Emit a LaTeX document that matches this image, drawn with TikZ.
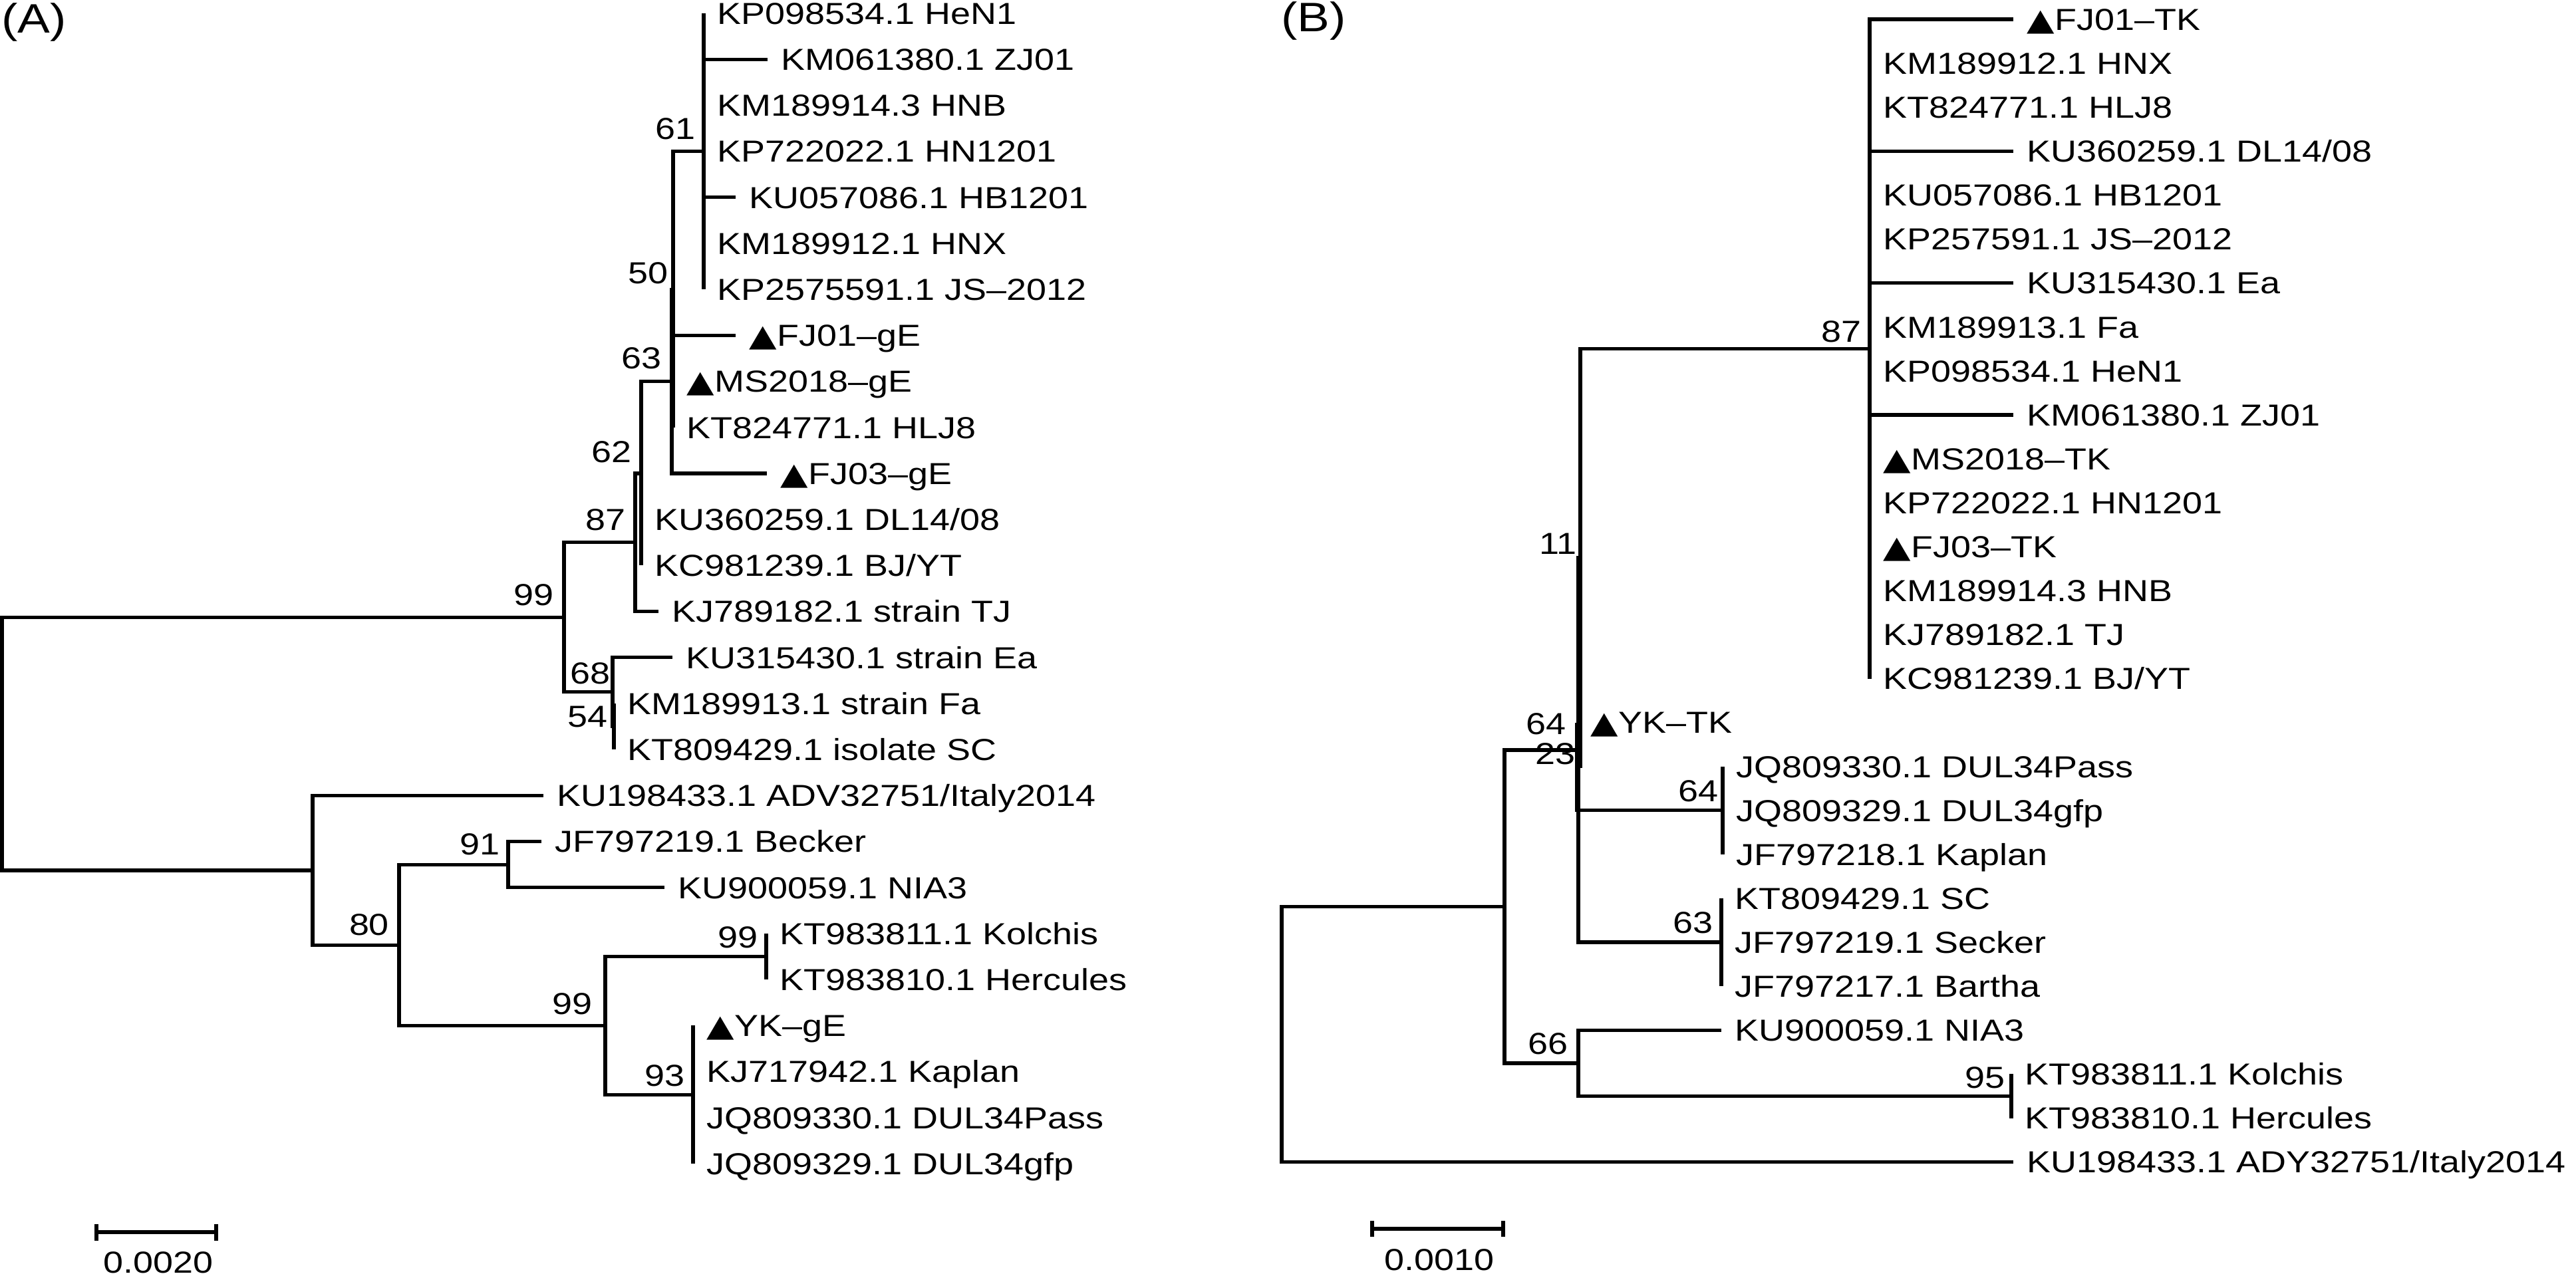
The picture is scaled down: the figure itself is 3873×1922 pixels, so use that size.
\documentclass[tikz,border=0pt]{standalone}
\usepackage{fontspec}
\setmainfont[FakeStretch=1.18]{Liberation Sans}
\newfontfamily\symf[FakeStretch=1.18]{DejaVu Sans}
\newcommand\tri{{\symf ▲}}
\begin{document}
\begin{tikzpicture}[x=0.01cm,y=-0.01cm,font=\fontsize{13}{15}\selectfont,
  br/.style={line width=1.5pt},
  leaf/.style={anchor=base west,inner sep=0pt,xshift=0.2cm,yshift=-0.163cm},
  boot/.style={anchor=center,inner sep=0pt},
  panel/.style={anchor=center,inner sep=0pt,font=\fontsize{17.6}{20}\selectfont}]
\useasboundingbox (0,0) rectangle (3873,1922);

% ---------------- Panel A ----------------
\node[panel] (pA) at (51,33) {(A)};
\coordinate (aroot) at (3,1118.6);
\coordinate (a99) at (848,928.25);
\coordinate (a87) at (955,815.8);
\coordinate (a62) at (964,712);
\coordinate (a63) at (1010,573.6);
\coordinate (a50) at (1012,435.2);
\coordinate (a61) at (1058,227.6);
\coordinate (a68) at (921,1040.7);
\coordinate (a54) at (923,1092.6);
\coordinate (aB) at (470,1308.9);
\coordinate (a80) at (600,1421.3);
\coordinate (a91) at (764,1300.2);
\coordinate (a99b) at (910,1542.4);
\coordinate (a99k) at (1152,1438.6);
\coordinate (a93) at (1042,1646.2);

\coordinate (at1) at (1058,20);
\coordinate (at2) at (1154,89.2);
\coordinate (at3) at (1058,158.4);
\coordinate (at4) at (1058,227.6);
\coordinate (at5) at (1106,296.8);
\coordinate (at6) at (1058,366);
\coordinate (at7) at (1058,435.2);
\coordinate (at8) at (1106,504.4);
\coordinate (at9) at (1012,573.6);
\coordinate (at10) at (1012,642.8);
\coordinate (at11) at (1153,712);
\coordinate (at12) at (964,781.2);
\coordinate (at13) at (964,850.4);
\coordinate (at14) at (990,919.6);
\coordinate (at15) at (1011,988.8);
\coordinate (at16) at (923,1058);
\coordinate (at17) at (923,1127.2);
\coordinate (at18) at (817,1196.4);
\coordinate (at19) at (814,1265.6);
\coordinate (at20) at (999,1334.8);
\coordinate (at21) at (1152,1404);
\coordinate (at22) at (1152,1473.2);
\coordinate (at23) at (1042,1542.4);
\coordinate (at24) at (1042,1611.6);
\coordinate (at25) at (1042,1680.8);
\coordinate (at26) at (1042,1750);

\node[leaf] (al1) at (at1) {KP098534.1 HeN1};
\node[leaf] (al2) at (at2) {KM061380.1 ZJ01};
\node[leaf] (al3) at (at3) {KM189914.3 HNB};
\node[leaf] (al4) at (at4) {KP722022.1 HN1201};
\node[leaf] (al5) at (at5) {KU057086.1 HB1201};
\node[leaf] (al6) at (at6) {KM189912.1 HNX};
\node[leaf] (al7) at (at7) {KP2575591.1 JS–2012};
\node[leaf] (al8) at (at8) {\tri FJ01–gE};
\node[leaf] (al9) at (at9) {\tri MS2018–gE};
\node[leaf] (al10) at (at10) {KT824771.1 HLJ8};
\node[leaf] (al11) at (at11) {\tri FJ03–gE};
\node[leaf] (al12) at (at12) {KU360259.1 DL14/08};
\node[leaf] (al13) at (at13) {KC981239.1 BJ/YT};
\node[leaf] (al14) at (at14) {KJ789182.1 strain TJ};
\node[leaf] (al15) at (at15) {KU315430.1 strain Ea};
\node[leaf] (al16) at (at16) {KM189913.1 strain Fa};
\node[leaf] (al17) at (at17) {KT809429.1 isolate SC};
\node[leaf] (al18) at (at18) {KU198433.1 ADV32751/Italy2014};
\node[leaf] (al19) at (at19) {JF797219.1 Becker};
\node[leaf] (al20) at (at20) {KU900059.1 NIA3};
\node[leaf] (al21) at (at21) {KT983811.1 Kolchis};
\node[leaf] (al22) at (at22) {KT983810.1 Hercules};
\node[leaf] (al23) at (at23) {\tri YK–gE};
\node[leaf] (al24) at (at24) {KJ717942.1 Kaplan};
\node[leaf] (al25) at (at25) {JQ809330.1 DUL34Pass};
\node[leaf] (al26) at (at26) {JQ809329.1 DUL34gfp};

\draw[br] (aroot) |- (a99);
\draw[br] (aroot) |- (aB);
\draw[br] (a99) |- (a87);
\draw[br] (a99) |- (a68);
\draw[br] (a87) |- (a62);
\draw[br] (a87) |- (at14);
\draw[br] (a62) |- (a63);
\draw[br] (a62) |- (at12);
\draw[br] (a62) |- (at13);
\draw[br] (a63) |- (a50);
\draw[br] (a63) |- (at11);
\draw[br] (a50) |- (a61);
\draw[br] (a50) |- (at8);
\draw[br] (a50) |- (at9);
\draw[br] (a50) |- (at10);
\foreach \i in {1,...,7} {\draw[br] (a61) |- (at\i);}
\draw[br] (a68) |- (at15);
\draw[br] (a68) |- (a54);
\draw[br] (a54) |- (at16);
\draw[br] (a54) |- (at17);
\draw[br] (aB) |- (at18);
\draw[br] (aB) |- (a80);
\draw[br] (a80) |- (a91);
\draw[br] (a80) |- (a99b);
\draw[br] (a91) |- (at19);
\draw[br] (a91) |- (at20);
\draw[br] (a99b) |- (a99k);
\draw[br] (a99b) |- (a93);
\draw[br] (a99k) |- (at21);
\draw[br] (a99k) |- (at22);
\foreach \i in {23,...,26} {\draw[br] (a93) |- (at\i);}

\node[boot] (ab61) at (1015,194) {61};
\node[boot] (ab50) at (974,411) {50};
\node[boot] (ab63) at (964,539) {63};
\node[boot] (ab62) at (919,680) {62};
\node[boot] (ab87) at (910,782) {87};
\node[boot] (ab99) at (802,895) {99};
\node[boot] (ab68) at (887,1013) {68};
\node[boot] (ab54) at (883,1078) {54};
\node[boot] (ab91) at (721,1270) {91};
\node[boot] (ab80) at (555,1391) {80};
\node[boot] (ab99k) at (1109,1410) {99};
\node[boot] (ab99b) at (860,1510) {99};
\node[boot] (ab93) at (999,1618) {93};

\coordinate (sa1) at (145,1853);
\coordinate (sa2) at (325,1853);
\draw[br] (sa1) -- (sa2);
\draw[br] (sa1) ++(0,-12.5) -- ++(0,25);
\draw[br] (sa2) ++(0,-12.5) -- ++(0,25);
\node[boot] (sal) at (238,1899) {0.0020};

% ---------------- Panel B ----------------
\node[panel] (pB) at (1975,31) {(B)};
\coordinate (broot) at (1927,1555.5);
\coordinate (bL) at (2262,1363.4);
\coordinate (bN64) at (2373,1127.9);
\coordinate (b11) at (2376,838.7);
\coordinate (b87) at (2811,524.75);
\coordinate (b23) at (2371,1152.7);
\coordinate (bDUL) at (2590,1218.8);
\coordinate (b63) at (2588,1417.1);
\coordinate (b66) at (2373,1598.9);
\coordinate (b95) at (3024,1648.45);

\coordinate (bt1) at (3027,29);
\coordinate (bt2) at (2811,95.1);
\coordinate (bt3) at (2811,161.2);
\coordinate (bt4) at (3027,227.3);
\coordinate (bt5) at (2811,293.4);
\coordinate (bt6) at (2811,359.5);
\coordinate (bt7) at (3027,425.6);
\coordinate (bt8) at (2811,491.7);
\coordinate (bt9) at (2811,557.8);
\coordinate (bt10) at (3027,623.9);
\coordinate (bt11) at (2811,690);
\coordinate (bt12) at (2811,756.1);
\coordinate (bt13) at (2811,822.2);
\coordinate (bt14) at (2811,888.3);
\coordinate (bt15) at (2811,954.4);
\coordinate (bt16) at (2811,1020.5);
\coordinate (bt17) at (2371,1086.6);
\coordinate (bt18) at (2590,1152.7);
\coordinate (bt19) at (2590,1218.8);
\coordinate (bt20) at (2590,1284.9);
\coordinate (bt21) at (2588,1351);
\coordinate (bt22) at (2588,1417.1);
\coordinate (bt23) at (2588,1483.2);
\coordinate (bt24) at (2588,1549.3);
\coordinate (bt25) at (3024,1615.4);
\coordinate (bt26) at (3024,1681.5);
\coordinate (bt27) at (3027,1747.6);

\node[leaf] (bl1) at (bt1) {\tri FJ01–TK};
\node[leaf] (bl2) at (bt2) {KM189912.1 HNX};
\node[leaf] (bl3) at (bt3) {KT824771.1 HLJ8};
\node[leaf] (bl4) at (bt4) {KU360259.1 DL14/08};
\node[leaf] (bl5) at (bt5) {KU057086.1 HB1201};
\node[leaf] (bl6) at (bt6) {KP257591.1 JS–2012};
\node[leaf] (bl7) at (bt7) {KU315430.1 Ea};
\node[leaf] (bl8) at (bt8) {KM189913.1 Fa};
\node[leaf] (bl9) at (bt9) {KP098534.1 HeN1};
\node[leaf] (bl10) at (bt10) {KM061380.1 ZJ01};
\node[leaf] (bl11) at (bt11) {\tri MS2018–TK};
\node[leaf] (bl12) at (bt12) {KP722022.1 HN1201};
\node[leaf] (bl13) at (bt13) {\tri FJ03–TK};
\node[leaf] (bl14) at (bt14) {KM189914.3 HNB};
\node[leaf] (bl15) at (bt15) {KJ789182.1 TJ};
\node[leaf] (bl16) at (bt16) {KC981239.1 BJ/YT};
\node[leaf] (bl17) at (bt17) {\tri YK–TK};
\node[leaf] (bl18) at (bt18) {JQ809330.1 DUL34Pass};
\node[leaf] (bl19) at (bt19) {JQ809329.1 DUL34gfp};
\node[leaf] (bl20) at (bt20) {JF797218.1 Kaplan};
\node[leaf] (bl21) at (bt21) {KT809429.1 SC};
\node[leaf] (bl22) at (bt22) {JF797219.1 Secker};
\node[leaf] (bl23) at (bt23) {JF797217.1 Bartha};
\node[leaf] (bl24) at (bt24) {KU900059.1 NIA3};
\node[leaf] (bl25) at (bt25) {KT983811.1 Kolchis};
\node[leaf] (bl26) at (bt26) {KT983810.1 Hercules};
\node[leaf] (bl27) at (bt27) {KU198433.1 ADY32751/Italy2014};

\draw[br] (broot) |- (bL);
\draw[br] (broot) |- (bt27);
\draw[br] (bL) |- (bN64);
\draw[br] (bL) |- (b66);
\draw[br] (bN64) |- (b11);
\draw[br] (bN64) |- (b63);
\draw[br] (b11) |- (b87);
\draw[br] (b11) |- (b23);
\foreach \i in {1,...,16} {\draw[br] (b87) |- (bt\i);}
\draw[br] (b23) |- (bt17);
\draw[br] (b23) |- (bDUL);
\foreach \i in {18,19,20} {\draw[br] (bDUL) |- (bt\i);}
\foreach \i in {21,22,23} {\draw[br] (b63) |- (bt\i);}
\draw[br] (b66) |- (bt24);
\draw[br] (b66) |- (b95);
\draw[br] (b95) |- (bt25);
\draw[br] (b95) |- (bt26);

\node[boot] (bb87) at (2768,499) {87};
\node[boot] (bb11) at (2342,818) {11};
\node[boot] (bb64a) at (2324,1089) {64};
\node[boot] (bb23) at (2338,1134) {23};
\node[boot] (bb64b) at (2553,1190) {64};
\node[boot] (bb63) at (2545,1388) {63};
\node[boot] (bb66) at (2327,1570) {66};
\node[boot] (bb95) at (2984,1621) {95};

\coordinate (sb1) at (2063,1848);
\coordinate (sb2) at (2260,1848);
\draw[br] (sb1) -- (sb2);
\draw[br] (sb1) ++(0,-12) -- ++(0,24);
\draw[br] (sb2) ++(0,-12) -- ++(0,24);
\node[boot] (sbl) at (2164,1895) {0.0010};
\end{tikzpicture}
\end{document}
